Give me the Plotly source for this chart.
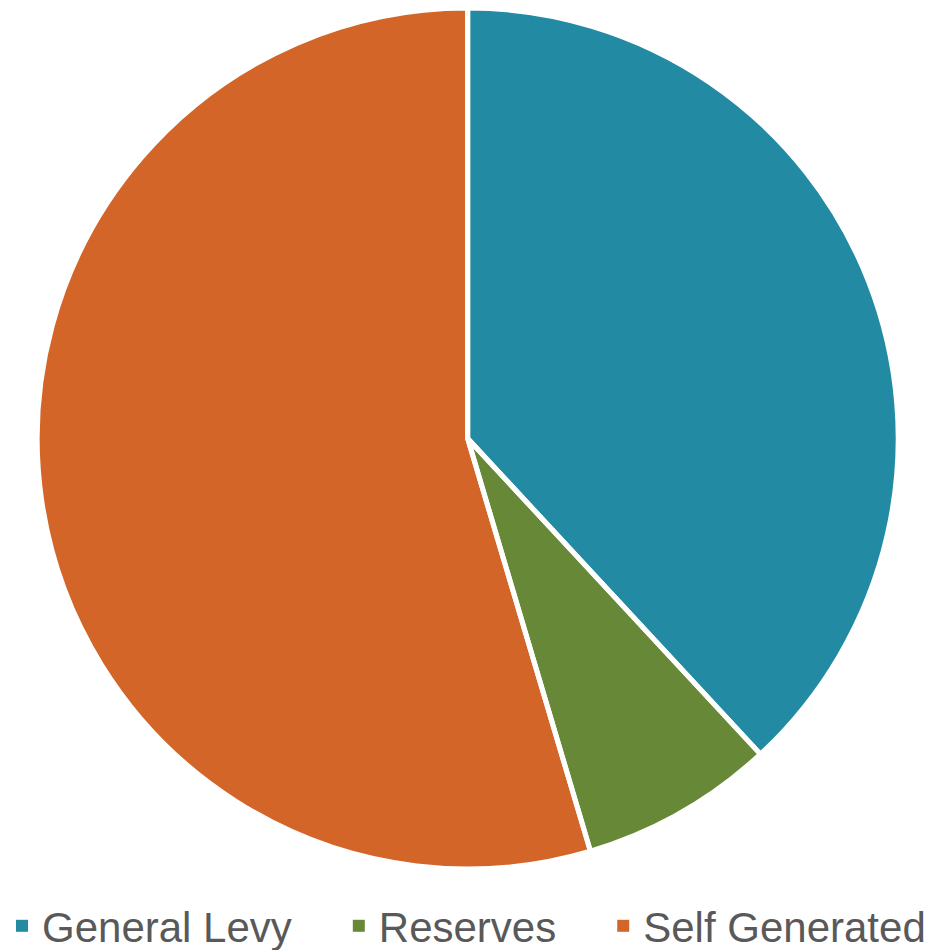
import plotly.graph_objects as go

categories = ["General Levy", "Reserves", "Self Generated"]
values = [38.1, 7.3, 54.6]
colors = ["#238AA3", "#678937", "#D46529"]

# legend labels: trailing en spaces widen the gap between legend entries
legend_labels = [c + ("\u2002\u2002" if i < len(categories) - 1 else "")
                 for i, c in enumerate(categories)]

W, H = 938, 950
MB = 40                      # bottom margin reserved for the legend
PH = H - MB                  # plot-area height
line_w = 5
pie_top, pie_bottom = 0, 861  # pie path extent (px, from top)
cx = 459.7
domain = dict(x=[0, 2 * cx / W], y=[(PH - pie_bottom) / PH, (PH - pie_top) / PH])

# coloured slices (no outline, so the legend squares stay full size)
fig = go.Figure(go.Pie(
    labels=legend_labels,
    values=values,
    sort=False,
    direction="clockwise",
    rotation=0,
    textinfo="none",
    hoverinfo="label+percent",
    marker=dict(colors=colors, line=dict(color="white", width=0)),
    domain=domain,
))
# white slice separators drawn on top
fig.add_trace(go.Pie(
    labels=legend_labels,
    values=values,
    sort=False,
    direction="clockwise",
    rotation=0,
    textinfo="none",
    hoverinfo="skip",
    showlegend=False,
    marker=dict(colors=["rgba(0,0,0,0)"] * len(values), line=dict(color="white", width=line_w)),
    domain=domain,
))

fig.update_layout(
    width=W,
    height=H,
    margin=dict(l=0, r=0, t=0, b=MB, autoexpand=False),
    paper_bgcolor="white",
    showlegend=True,
    legend=dict(
        orientation="h",
        x=-6 / W,
        xanchor="left",
        y=(PH - 918) / PH,
        yanchor="middle",
        font=dict(family="Liberation Sans, Arial, sans-serif", size=42, color="#595959"),
        bgcolor="rgba(0,0,0,0)",
    ),
)

fig.write_html("out.html")
